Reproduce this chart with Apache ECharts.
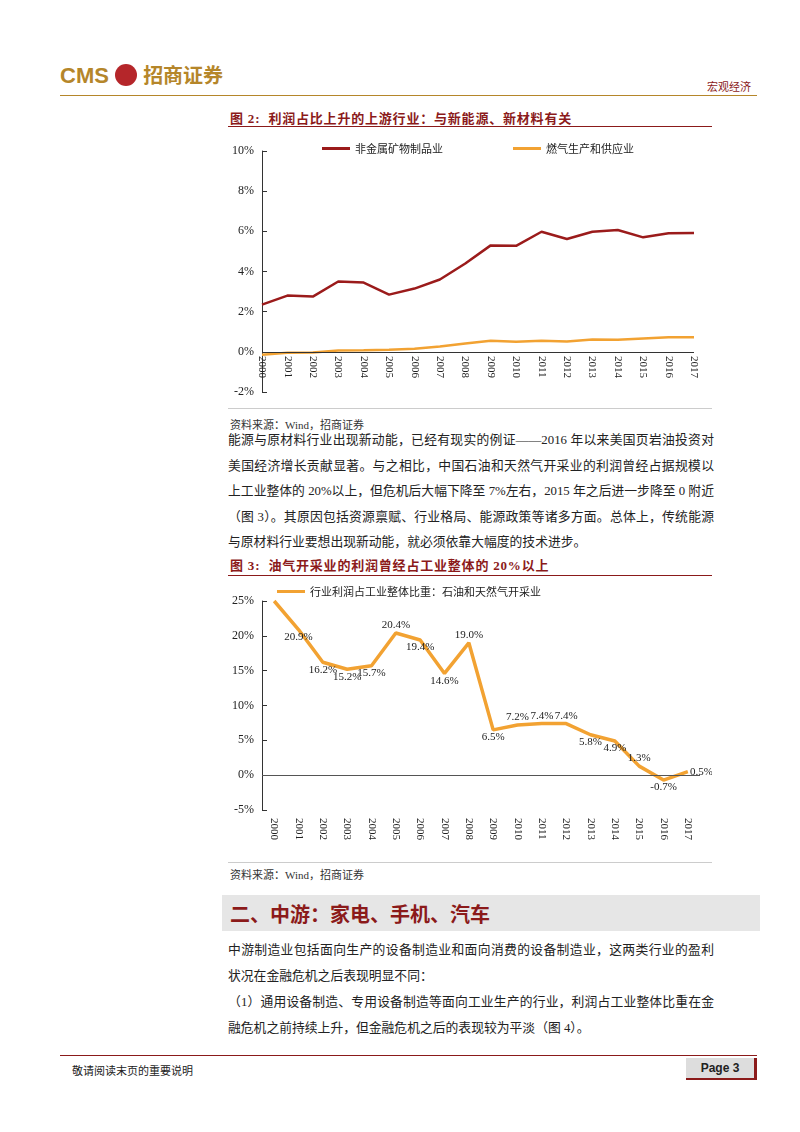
<!DOCTYPE html>
<html><head><meta charset="utf-8">
<script src="https://cdn.jsdelivr.net/npm/echarts@6/dist/echarts.min.js"></script>
<style>
body{margin:0;width:800px;height:1132px;position:relative;background:#fff;font-family:"Liberation Serif","Noto Sans CJK SC",serif;color:#222}
.a{position:absolute}
.t{font-size:12.8px;line-height:25.5px;letter-spacing:0;text-align:justify}
.fig{color:#8b1a1a;font-weight:bold;font-size:13px;letter-spacing:0.8px}
.src{font-size:11px;color:#333}
</style></head><body>
<div class="a" style="left:60px;top:60px;font:bold 22px 'Liberation Sans';color:#b5862a">CMS <span style="display:inline-block;width:22px;height:22px;border-radius:11px;background:#b5262a;vertical-align:-3px"></span> <span style="font-family:'Noto Sans CJK SC';font-size:20px;color:#b5862a">招商证券</span></div>
<div class="a" style="left:60px;top:95px;width:697px;border-top:1px solid #b5862a"></div>
<div class="a" style="left:707px;top:78px;font-size:11px;color:#8b1a1a;font-family:'Noto Sans CJK SC'">宏观经济</div>

<div class="a fig" style="left:230px;top:108px">图 2:&nbsp; 利润占比上升的上游行业：与新能源、新材料有关</div>
<div class="a" style="left:228px;top:126px;width:484px;border-top:1px solid #8b1a1a"></div>
<div id="c1" class="a" style="left:222px;top:138px;width:490px;height:262px"></div>
<div class="a" style="left:228px;top:408px;width:484px;border-top:1px solid #ccc"></div>
<div class="a src" style="left:230px;top:416px">资料来源：Wind，招商证券</div>

<div class="a t" style="left:228px;top:428px;width:486px">能源与原材料行业出现新动能，已经有现实的例证——2016 年以来美国页岩油投资对美国经济增长贡献显著。与之相比，中国石油和天然气开采业的利润曾经占据规模以上工业整体的 20%以上，但危机后大幅下降至 7%左右，2015 年之后进一步降至 0 附近（图 3）。其原因包括资源禀赋、行业格局、能源政策等诸多方面。总体上，传统能源与原材料行业要想出现新动能，就必须依靠大幅度的技术进步。</div>

<div class="a fig" style="left:230px;top:555px">图 3:&nbsp; 油气开采业的利润曾经占工业整体的 20%以上</div>
<div class="a" style="left:228px;top:575px;width:484px;border-top:1px solid #8b1a1a"></div>
<div id="c2" class="a" style="left:222px;top:578px;width:490px;height:280px"></div>
<div class="a" style="left:228px;top:862px;width:484px;border-top:1px solid #ccc"></div>
<div class="a src" style="left:230px;top:866px">资料来源：Wind，招商证券</div>

<div class="a" style="left:222px;top:895px;width:538px;height:36px;background:#e6e6e6"></div>
<div class="a" style="left:230px;top:899px;font:bold 20px 'Noto Sans CJK SC';color:#8b1a1a">二、中游：家电、手机、汽车</div>
<div class="a t" style="left:228px;top:938px;width:486px">中游制造业包括面向生产的设备制造业和面向消费的设备制造业，这两类行业的盈利状况在金融危机之后表现明显不同：</div>
<div class="a t" style="left:228px;top:990px;width:486px">（1）通用设备制造、专用设备制造等面向工业生产的行业，利润占工业整体比重在金融危机之前持续上升，但金融危机之后的表现较为平淡（图 4）。</div>

<div class="a" style="left:60px;top:1055px;width:697px;border-top:1px solid #8b1a1a"></div>
<div class="a" style="left:72px;top:1062px;font-size:11px">敬请阅读末页的重要说明</div>
<div class="a" style="left:686px;top:1058px;width:68px;height:20px;background:#ddd;border-right:3px solid #8b1a1a;border-bottom:2px solid #8b1a1a;font:bold 12px 'Liberation Sans';line-height:20px;text-align:center">Page 3</div>

<script>
var years=['2000','2001','2002','2003','2004','2005','2006','2007','2008','2009','2010','2011','2012','2013','2014','2015','2016','2017'];
var nonMetal=[2.35,2.8,2.75,3.5,3.45,2.85,3.15,3.6,4.4,5.3,5.28,5.98,5.62,5.98,6.07,5.7,5.9,5.92];
var gas=[-0.15,-0.05,-0.03,0.07,0.08,0.1,0.15,0.27,0.42,0.55,0.5,0.55,0.52,0.62,0.6,0.67,0.73,0.73];
var oil=[25.0,20.9,16.2,15.2,15.7,20.4,19.4,14.6,19.0,6.5,7.2,7.4,7.4,5.8,4.9,1.3,-0.7,0.5];
var ff='Liberation Serif';
var c1=echarts.init(document.getElementById('c1'));
c1.setOption({animation:false,
 legend:{top:0,left:95,itemGap:70,itemWidth:28,itemHeight:3,icon:'rect',textStyle:{fontFamily:'Noto Sans CJK SC',fontSize:11,color:'#222'}},
 grid:{left:40,right:18,top:13,bottom:8,outerBoundsMode:'none',containLabel:false},
 xAxis:{type:'category',data:years,boundaryGap:false,axisLine:{onZero:false,lineStyle:{color:'#333'},show:false},axisTick:{show:false},
  axisLabel:{rotate:-90,fontFamily:ff,fontSize:11,color:'#222',interval:0,margin:-36}},
 yAxis:{type:'value',min:-2,max:10,interval:2,splitLine:{show:false},axisLine:{show:true,lineStyle:{color:'#333'}},axisTick:{show:true,inside:true},
  axisLabel:{formatter:'{value}%',fontFamily:ff,fontSize:12,color:'#222'}},
 series:[{name:'非金属矿物制品业',type:'line',data:nonMetal,symbol:'none',lineStyle:{color:'#9b1b1b',width:2.5},itemStyle:{color:'#9b1b1b'},
   markLine:{silent:true,symbol:'none',label:{show:false},lineStyle:{color:'#333',type:'solid',width:1},data:[{yAxis:0}]}},
  {name:'燃气生产和供应业',type:'line',data:gas,symbol:'none',lineStyle:{color:'#f2a232',width:2.5},itemStyle:{color:'#f2a232'}}]});
var c2=echarts.init(document.getElementById('c2'));
var pos=['bottom','bottom','bottom','bottom','bottom','top','bottom','bottom','top','bottom','top','top','top','bottom','bottom','top','bottom','right'];
c2.setOption({animation:false,
 legend:{top:3,left:50,itemWidth:28,itemHeight:3,icon:'rect',textStyle:{fontFamily:'Noto Sans CJK SC',fontSize:11,color:'#222'}},
 grid:{left:40,right:12,top:23,bottom:48,outerBoundsMode:'none',containLabel:false},
 xAxis:{type:'category',data:years,axisLine:{show:false},axisTick:{show:false},
  axisLabel:{rotate:-90,fontFamily:ff,fontSize:11,color:'#222',interval:0,margin:8}},
 yAxis:{type:'value',min:-5,max:25,interval:5,splitLine:{show:false},axisLine:{show:true,lineStyle:{color:'#333'}},axisTick:{show:true,inside:true},
  axisLabel:{formatter:'{value}%',fontFamily:ff,fontSize:12,color:'#222'}},
 series:[{name:'行业利润占工业整体比重：石油和天然气开采业',type:'line',symbol:'circle',symbolSize:0.1,showAllSymbol:true,lineStyle:{color:'#f2a232',width:3.5},itemStyle:{color:'#f2a232'},
  data:oil.map(function(v,i){return {value:v,label:{show:i>0,position:pos[i],distance:2}};}),
  label:{formatter:function(p){return p.value.toFixed(1)+'%';},fontFamily:ff,fontSize:11,color:'#222'},
  labelLayout:{hideOverlap:false},
  markLine:{silent:true,symbol:'none',label:{show:false},lineStyle:{color:'#555',type:'solid',width:1},data:[{yAxis:0}]}}]});
</script></body></html>
